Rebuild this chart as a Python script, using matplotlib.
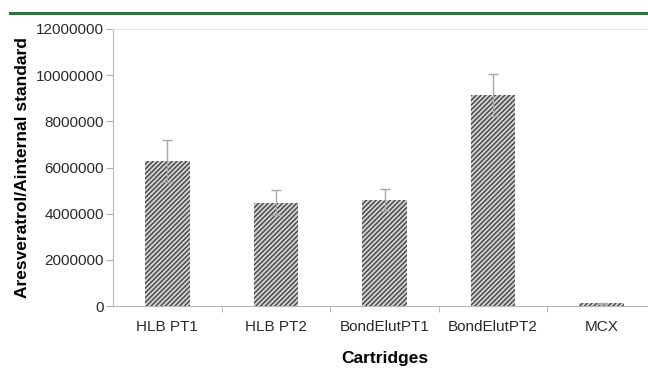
import matplotlib
matplotlib.use('Agg')
import matplotlib.pyplot as plt
from matplotlib.lines import Line2D
import numpy as np

cartridges = ['HLB PT1', 'HLB PT2', 'BondElutPT1', 'BondElutPT2', 'MCX']
ratio = [6280000, 4480000, 4590000, 9150000, 120000]
ratio_err = [910000, 550000, 490000, 900000, 20000]
y_ticks = [0, 2000000, 4000000, 6000000, 8000000, 10000000, 12000000]

plt.rcParams['font.family'] = ['Liberation Sans', 'DejaVu Sans']
plt.rcParams['hatch.color'] = '#444444'
plt.rcParams['hatch.linewidth'] = 1.0

fig = plt.figure(figsize=(6.48, 3.69), dpi=100)
ax = fig.add_axes([113 / 648, 63 / 369, 543 / 648, 277 / 369])

x = np.arange(len(cartridges))
ax.bar(x, ratio, width=0.41, color='#d0d0d0', hatch='///////', edgecolor='#444444', linewidth=0)
ax.errorbar(x, ratio, yerr=ratio_err, fmt='none', ecolor='#a8a8a8', elinewidth=1, capsize=3.5, capthick=1)

ax.set_xlim(-0.5, 4.5)
ax.set_ylim(0, 12000000)
ax.set_yticks(y_ticks)
ax.set_yticklabels([str(v) for v in y_ticks], fontsize=11, color='#2a2a2a')
ax.set_xticks(x)
ax.set_xticklabels(cartridges, fontsize=11, color='#2a2a2a')
ax.set_xticks(x[:-1] + 0.5, minor=True)
ax.tick_params(axis='x', which='major', length=0, pad=10)
ax.tick_params(axis='x', which='minor', length=4, color='#b0b0b0', direction='out')
ax.tick_params(axis='y', length=5, color='#b0b0b0', direction='out', pad=1.5)

for side in ['left', 'bottom']:
    ax.spines[side].set_color('#b8b8b8')
ax.spines['top'].set_color('#e4e4e4')
ax.spines['right'].set_visible(False)

ax.set_ylabel('Aresveratrol/Ainternal standard', fontsize=12.5, fontweight='bold', labelpad=4)
ax.set_xlabel('Cartridges', fontsize=12.5, fontweight='bold', labelpad=12)

fig.add_artist(Line2D([10 / 648, 1.0], [1 - 13 / 369, 1 - 13 / 369], color='#2e7442', linewidth=2.2))

plt.savefig('out.png', dpi=100)
